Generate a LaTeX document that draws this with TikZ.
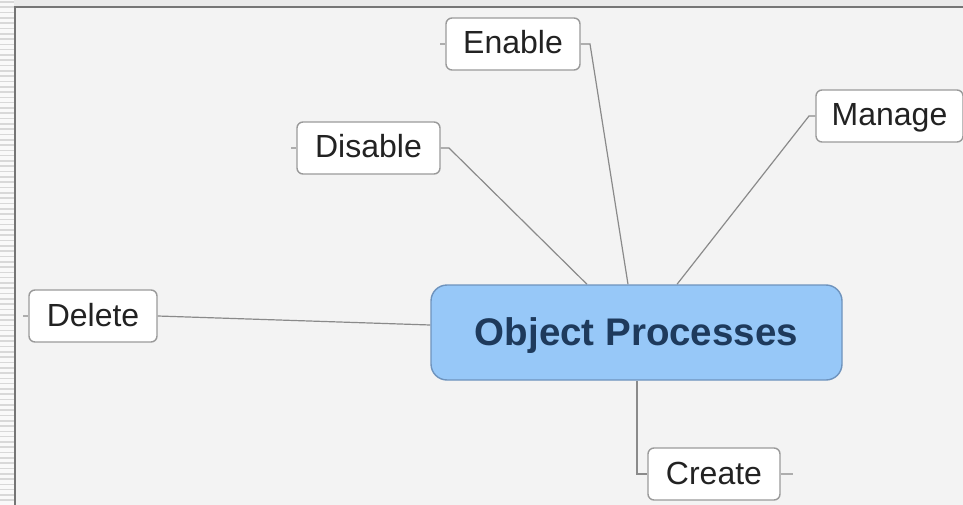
\documentclass[tikz,border=0pt]{standalone}
\usepackage{fontspec}
\setmainfont{Liberation Sans}
\usetikzlibrary{calc,backgrounds}
\definecolor{bgc}{HTML}{F3F3F3}
\definecolor{stripc}{HTML}{F9F9F9}
\definecolor{stripline}{HTML}{D8D8D8}
\definecolor{topc}{HTML}{EAEAEA}
\definecolor{framec}{HTML}{757575}
\definecolor{mainfill}{HTML}{97C8F8}
\definecolor{maindraw}{HTML}{6E93BD}
\definecolor{maintext}{HTML}{1E3A5C}
\definecolor{boxdraw}{HTML}{9A9A9A}
\definecolor{linec}{HTML}{8A8A8A}
\definecolor{boxtext}{HTML}{222222}
\tikzset{
  topic/.style={draw=boxdraw, line width=1.4pt, fill=white, rounded corners=6pt,
    inner sep=0pt, minimum height=52pt, text=boxtext,
    font=\fontsize{32}{38}\selectfont, text height=20pt, text depth=0pt},
  central/.style={draw=maindraw, line width=1.4pt, fill=mainfill, rounded corners=16pt,
    inner sep=0pt, minimum width=411pt, minimum height=95pt, text=maintext,
    font=\fontsize{38.5}{46}\selectfont\bfseries, text height=25pt, text depth=0pt},
  conn/.style={draw=linec, line width=1.2pt},
  stub/.style={draw=linec!70, line width=1.2pt},
  stripe/.style={draw=stripline, line width=1.6pt},
  framerule/.style={draw=framec, line width=2pt}
}
\begin{document}
\begin{tikzpicture}[x=1pt,y=-1pt]
\useasboundingbox (0,0) rectangle (963,505);

\node[central] (main) at (636.5,332.5) {Object Processes};
\node[topic, minimum width=134pt] (enable) at (513,44) {Enable};
\node[topic, minimum width=143pt] (disable) at (368.5,148) {Disable};
\node[topic, minimum width=147pt] (manage) at (889.5,116) {Manage};
\node[topic, minimum width=128pt] (delete) at (93,316) {Delete};
\node[topic, minimum width=132pt] (create) at (714,474) {Create};

% free stub ends
\coordinate (enL) at (440,44);
\coordinate (enR) at (590,44);
\coordinate (diL) at (291,148);
\coordinate (diR) at (449,148);
\coordinate (maL) at (809,116);
\coordinate (deL) at (23,316);
\coordinate (crR) at (793,474);
\coordinate (crB) at (637,474);

\begin{pgfonlayer}{background}
\fill[bgc] (0,0) rectangle (963,505);
\fill[stripc] (0,0) rectangle (14,505);
\foreach \i in {0,...,95} \draw[stripe] (0,{\i*5.3+2}) -- (14,{\i*5.3+2});
\fill[topc] (14,0) rectangle (963,6.5);
\draw[framerule] (15,505) -- (15,7.5) -- (963,7.5);

\draw[stub] (enL) -- (enable.west);
\draw[stub] (diL) -- (disable.west);
\draw[stub] (deL) -- (delete.west);
\draw[stub] (create.east) -- (crR);

\draw[conn] (enable.east) -- (enR) -- ($(main.north)+(-8.5,0)$);
\draw[conn] (disable.east) -- (diR) -- ($(main.north)+(-49.5,0)$);
\draw[conn] (manage.west) -- (maL) -- ($(main.north)+(40.5,0)$);
\draw[conn] (delete.east) -- ($(main.west)+(0,-7.5)$);
\draw[conn] ($(main.south)+(0.5,0)$) -- (crB) -- (create.west);
\end{pgfonlayer}
\end{tikzpicture}
\end{document}
